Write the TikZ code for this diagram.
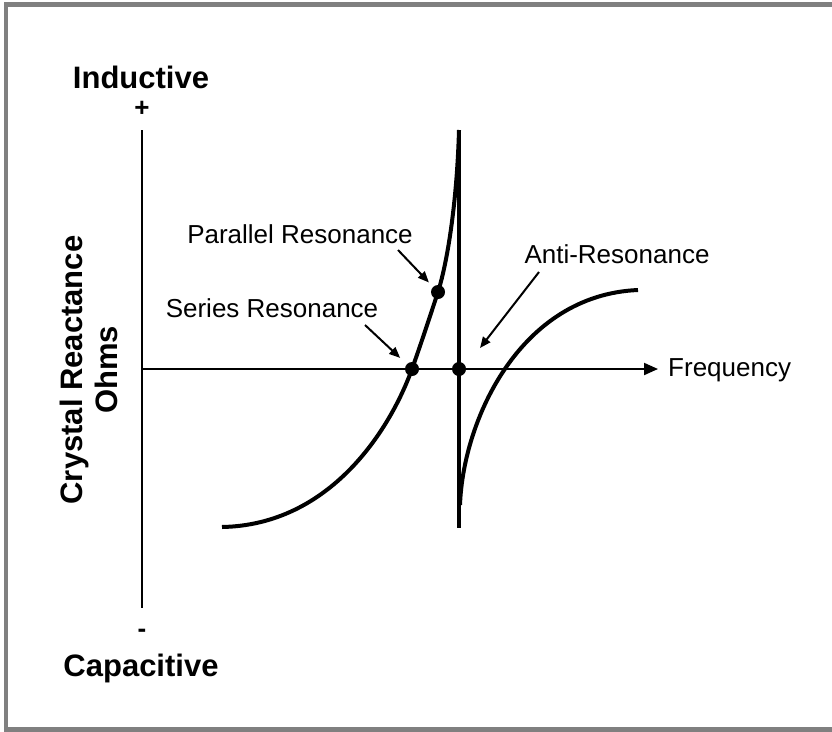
\documentclass[tikz,border=0pt]{standalone}
\usepackage{fontspec}
\setmainfont{Liberation Sans}
\usetikzlibrary{arrows.meta}
\tikzset{
  bigtext/.style={font=\fontsize{31}{35}\selectfont\bfseries},
  smalltext/.style={font=\fontsize{26}{31}\selectfont},
  signtext/.style={font=\fontsize{26}{30}\selectfont\bfseries},
  curve/.style={line width=4pt},
  axis/.style={line width=2pt},
  pointer/.style={line width=2pt,-{Triangle[length=11pt,width=9pt]}},
  dot/.style={circle,fill,inner sep=0pt,minimum size=14pt}
}
\begin{document}
\begin{tikzpicture}[x=1pt,y=-1pt]
  \useasboundingbox (0,0) rectangle (832,731);
  % frame
  \draw[line width=4.5pt,color=gray] (840,4.5) -- (6,4.5) -- (6,729.5) -- (840,729.5);
  % labels
  \node[bigtext,anchor=base] (ind) at (141,88) {Inductive};
  \node[bigtext,anchor=base] (cap) at (141,676) {Capacitive};
  \node[signtext] (plus) at (142,109) {+};
  \node[signtext] (minus) at (142,633) {-};
  \node[bigtext,rotate=90,align=center] (ylab) at (89,370) {Crystal Reactance\\Ohms};
  \node[smalltext,anchor=base] (par) at (300,243) {Parallel Resonance};
  \node[smalltext,anchor=base] (ser) at (272,317) {Series Resonance};
  \node[smalltext,anchor=base] (anti) at (617,263) {Anti-Resonance};
  \node[smalltext,anchor=west,inner sep=0pt] (freq) at (668,370) {Frequency};
  % axes
  \coordinate (o) at (142,369);
  \coordinate (top) at (142,130);
  \coordinate (bot) at (142,608);
  \draw[axis] (top) -- (bot);
  \draw[axis,-{Triangle[length=14pt,width=12pt]},shorten >=10pt] (o) -- (o -| freq.west);
  % reactance curves
  \coordinate (atop) at (459,130);
  \coordinate (abot) at (459,528);
  \node[dot] (sr) at (412,369) {};
  \node[dot] (pr) at (438,292) {};
  \node[dot] (ar) at (459,369) {};
  \draw[curve] (222,527) .. controls (330,525) and (390,430) .. (sr.center)
    .. controls (423,338) and (432,310) .. (pr.center)
    .. controls (448,260) and (457,200) .. (atop);
  \draw[curve] (atop) -- (abot);
  \draw[curve] (460,505) .. controls (463,420) and (520,295) .. (638,290);
  % pointers
  \coordinate (pfrom) at (398,250);
  \coordinate (sfrom) at (365,325);
  \coordinate (afrom) at (539,272);
  \coordinate (ato) at (480,348);
  \draw[pointer,shorten >=6pt] (pfrom) -- (pr);
  \draw[pointer,shorten >=9pt] (sfrom) -- (sr);
  \draw[pointer] (afrom) -- (ato);
\end{tikzpicture}
\end{document}
